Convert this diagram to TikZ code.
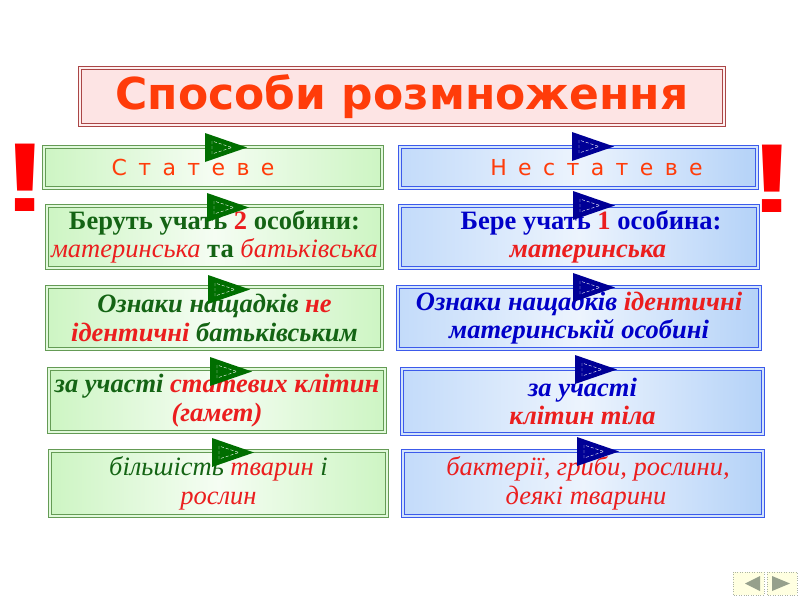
\documentclass[tikz,border=0pt]{standalone}
\usepackage{fontspec}
\setmainfont{Liberation Serif}
\newfontfamily\titlefont{DejaVu Sans}
\newfontfamily\headfont[LetterSpace=20]{DejaVu Sans}
\newfontfamily\warnfont{Liberation Sans}
\usepackage{tikz}
\usetikzlibrary{positioning}
\definecolor{gtext}{RGB}{20,100,20}
\definecolor{btext}{RGB}{0,0,200}
\definecolor{rtext}{RGB}{235,30,30}
\definecolor{otext}{RGB}{255,60,10}
\definecolor{gfill}{RGB}{205,245,195}
\definecolor{gline}{RGB}{100,155,85}
\definecolor{bfill}{RGB}{180,210,248}
\definecolor{bline}{RGB}{60,90,235}
\definecolor{gtri}{RGB}{0,110,0}
\definecolor{btri}{RGB}{0,0,150}
\definecolor{pfill}{RGB}{253,228,228}
\definecolor{pline}{RGB}{170,70,70}
\definecolor{navfill}{RGB}{255,255,225}
\definecolor{navtri}{RGB}{150,160,140}

% small pointer flag on top of a box: x, y, colour
\newcommand{\pointer}[3]{%
  \fill[#3] (#1,#2) -- ++(0,29) -- ++(42,-14.5) -- cycle;
  \draw[white,densely dashed,line width=0.4pt] (#1+7,#2+8) -- ++(0,13) -- ++(20,-6.5) -- cycle;
}

\tikzset{
  rowfont/.style={font=\fontsize{26.5}{28.5}\selectfont},
  sexbox/.style={draw=gline, double=gfill!60!white, double distance=1.1pt, line width=1.3pt,
    left color=gfill, right color=gfill, middle color=gfill!20!white,
    text=gtext, align=center, inner sep=0pt},
  asexbox/.style={draw=bline, double=bfill!60!white, double distance=1.1pt, line width=1.3pt,
    left color=bfill!80!white, right color=bfill, middle color=bfill!25!white,
    text=btext, align=center, inner sep=0pt},
  headtext/.style={font=\headfont\fontsize{22}{26}\selectfont, text=otext},
  warn/.style={text=red, inner sep=0pt, font=\warnfont\bfseries\fontsize{98}{98}\selectfont},
}

\begin{document}
\begin{tikzpicture}[x=1pt,y=-1pt]
  \useasboundingbox (0,0) rectangle (800,600);

  % title
  \node[draw=pline, double=pfill!60!white, double distance=1.1pt, line width=1.3pt,
    fill=pfill, minimum width=644, minimum height=57, inner sep=0pt,
    text=otext, font=\titlefont\bfseries\fontsize{44}{48}\selectfont]
    (title) at (402,96.5) {Способи розмноження};

  % headers
  \node[sexbox, headtext, minimum width=338, minimum height=41] (sex) at (213,167.5)
    {С т а т е в е\hspace*{40pt}};
  \node[asexbox, headtext, minimum width=357, minimum height=41] (asex) at (578.5,167.5)
    {\hspace*{36pt}Н е с т а т е в е};

  % sexual column
  \node[sexbox, rowfont, minimum width=335, minimum height=62] (s1) at (214.5,237)
    {{\bfseries Беруть учать \textcolor{rtext}{2} особини:}\\
     {\itshape\color{rtext}материнська} {\bfseries та} {\itshape\color{rtext}батьківська}};
  \node[sexbox, rowfont, minimum width=335, minimum height=62] (s2) at (214.5,318)
    {\bfseries\itshape Ознаки нащадків \textcolor{rtext}{не}\\
     \bfseries\itshape\textcolor{rtext}{ідентичні} батьківським};
  \node[sexbox, rowfont, minimum width=336, minimum height=63] (s3) at (217,400.5)
    {\bfseries\itshape за участі \textcolor{rtext}{статевих клітин}\\
     \bfseries\itshape\textcolor{rtext}{(гамет)}};
  \node[sexbox, rowfont, minimum width=337, minimum height=65] (s4) at (218.5,483.5)
    {\itshape більшість \textcolor{rtext}{тварин} і\\
     \itshape\textcolor{rtext}{рослин}};

  % asexual column
  \node[asexbox, rowfont, minimum width=358, minimum height=62] (a1) at (579,237)
    {\hspace*{24pt}{\bfseries Бере учать \textcolor{rtext}{1} особина:}\\
     \hspace*{18pt}{\bfseries\itshape\color{rtext}материнська}};
  \node[asexbox, rowfont, minimum width=362, minimum height=62] (a2) at (579,318)
    {\bfseries\itshape Ознаки нащадків \textcolor{rtext}{ідентичні}\\
     \bfseries\itshape материнській особині};
  \node[asexbox, rowfont, minimum width=361, minimum height=65] (a3) at (582.5,401.5)
    {\bfseries\itshape за участі\\
     \bfseries\itshape\textcolor{rtext}{клітин тіла}};
  \node[asexbox, rowfont, minimum width=360, minimum height=65] (a4) at (583,483.5)
    {\hspace*{10pt}\itshape\color{rtext}бактерії, гриби, рослини,\\
     \hspace*{6pt}\itshape\color{rtext}деякі тварини};

  % pointers
  \pointer{205}{133}{gtri}
  \pointer{207}{193}{gtri}
  \pointer{208}{275}{gtri}
  \pointer{210}{357}{gtri}
  \pointer{212}{438}{gtri}
  \pointer{572}{132}{btri}
  \pointer{573}{191}{btri}
  \pointer{573}{273}{btri}
  \pointer{575}{355}{btri}
  \pointer{577}{437}{btri}

  % exclamation marks
  \node[warn] (warnl) at (25,178) {\scalebox{1.4}[1]{!}};
  \node[warn] (warnr) at (772,179) {\scalebox{1.4}[1]{!}};

  % navigation buttons
  \draw[navtri!80, dotted, fill=navfill] (733,572) rectangle (764,595);
  \draw[navtri!80, dotted, fill=navfill] (767,572) rectangle (797,595);
  \fill[navtri] (760,576) -- (760,591) -- (745,583.5) -- cycle;
  \fill[navtri] (772,576) -- (772,591) -- (790,583.5) -- cycle;
\end{tikzpicture}
\end{document}
